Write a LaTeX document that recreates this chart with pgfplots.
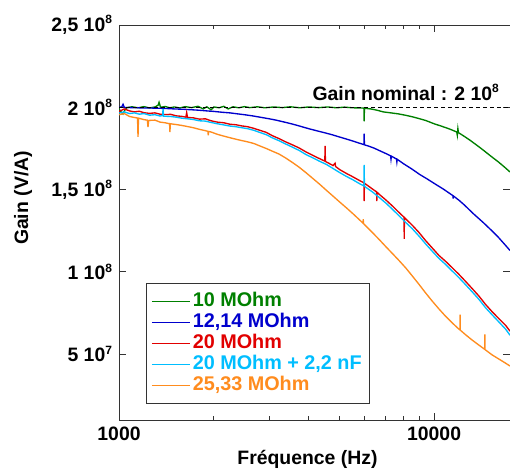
\documentclass[border=0pt]{standalone}
\usepackage{fontspec}
\setmainfont{Liberation Sans}
\usepackage{pgfplots}
\pgfplotsset{compat=1.18}
\definecolor{cgreen}{RGB}{0,128,0}
\definecolor{cblue}{RGB}{0,0,205}
\definecolor{cred}{RGB}{225,0,0}
\definecolor{ccyan}{RGB}{0,190,255}
\definecolor{corange}{RGB}{255,140,30}
\newcommand{\supx}[1]{\raisebox{7.5bp}{\fontsize{12bp}{12bp}\selectfont #1}}
\newcommand{\bigf}{\fontsize{19.4bp}{21bp}\selectfont\bfseries}
\newcommand{\legf}{\fontsize{19.8bp}{21bp}\selectfont\bfseries}
\begin{document}
\begin{tikzpicture}
\begin{axis}[
 name=ax,
 scale only axis, width=391bp, height=395bp,
 xmode=log, xmin=1000, xmax=17420, ymin=0.1, ymax=2.5,
 xtick={1000,10000}, xticklabels={1000,10000},
 minor xtick={2000,3000,4000,5000,6000,7000,8000,9000},
 ytick={0.5,1,1.5,2,2.5},
 yticklabels={{5 10\supx{7}},{1 10\supx{8}},{1,5 10\supx{8}},{2 10\supx{8}},{2,5 10\supx{8}}},
 tick align=inside, major tick length=7bp, minor tick length=4bp,
 axis line style={black!80, line width=0.8bp},
 every tick/.style={black!80, line width=0.8bp},
 ticklabel style={font=\bigf},
 yticklabel style={xshift=-3.5bp},
 xticklabel style={yshift=-3.5bp},
 xlabel={Fréquence (Hz)}, ylabel={Gain (V/A)},
 label style={font=\bigf},
 xlabel style={at={(axis description cs:0.482,-0.1139)}, anchor=base},
 ylabel style={at={(axis description cs:-0.2327,0.562)}, anchor=base},
 every axis plot/.append style={line width=1.35bp},
 legend style={at={(0.069,0.347)}, anchor=north west, draw=black!80, line width=0.8bp,
   inner xsep=5bp, inner ysep=7.5bp, row sep=0bp, font=\legf,
   nodes={inner xsep=2.5bp, inner ysep=2bp, text height=14bp, text depth=3bp}},
 legend cell align=left,
 legend image code/.code={\draw[#1, line width=0.9bp] (0bp,0bp) -- (38bp,0bp);},
]
\addplot[cgreen] coordinates {(1000,1.99)(1015,1.972)(1030,1.96)(1045,1.985)(1060,1.998)(1100,2.003)(1150,1.997)(1200,2.004)(1250,1.996)(1300,2.002)(1330,2.012)(1340,2.03)(1355,2.0)(1400,2.005)(1450,1.997)(1500,2.002)(1560,1.996)(1620,2.004)(1700,1.998)(1780,2.006)(1850,1.99)(1900,2.003)(1960,1.985)(2000,2.002)(2080,1.997)(2150,2.006)(2220,1.99)(2300,2.003)(2400,1.997)(2500,2.004)(2600,1.998)(2750,2.003)(2900,1.997)(3100,2.002)(3300,1.998)(3500,2.003)(3750,1.997)(4000,2.002)(4300,1.998)(4600,2.002)(4900,1.997)(5200,2.001)(5500,1.997)(5800,1.996)(5990,1.995)(6000,1.915)(6010,1.994)(6300,1.99)(6600,1.982)(6900,1.972)(7300,1.966)(7700,1.96)(8100,1.952)(8500,1.943)(8900,1.933)(9400,1.92)(10000,1.9)(10600,1.884)(11200,1.868)(11800,1.85)(11850,1.83)(11900,1.87)(11950,1.846)(12500,1.822)(13000,1.8)(13700,1.768)(14320,1.74)(15100,1.705)(16000,1.668)(16700,1.638)(17420,1.607)};
\addlegendentry{\textcolor{cgreen}{10 MOhm}}
\addplot[cblue] coordinates {(1000,2.0)(1020,2.002)(1030,2.018)(1040,1.999)(1100,1.998)(1200,1.996)(1300,1.995)(1400,1.993)(1500,1.99)(1600,1.988)(1700,1.985)(1800,1.982)(1900,1.978)(2000,1.975)(2120,1.97)(2250,1.966)(2380,1.96)(2500,1.955)(2650,1.948)(2800,1.94)(3000,1.93)(3150,1.922)(3300,1.913)(3470,1.903)(3650,1.892)(3820,1.881)(4000,1.87)(4250,1.857)(4500,1.845)(4750,1.833)(5000,1.82)(5250,1.808)(5500,1.796)(5750,1.784)(5990,1.773)(6000,1.84)(6010,1.772)(6200,1.764)(6450,1.752)(6740,1.735)(7050,1.718)(7280,1.705)(7300,1.685)(7320,1.703)(7600,1.686)(7620,1.668)(7640,1.684)(8000,1.657)(8500,1.625)(9000,1.592)(9500,1.565)(10000,1.538)(10700,1.503)(11480,1.463)(11500,1.445)(11520,1.461)(12000,1.435)(12500,1.405)(13300,1.355)(14320,1.30)(15100,1.258)(16000,1.21)(16700,1.17)(17420,1.13)};
\addlegendentry{\textcolor{cblue}{12,14 MOhm}}
\addplot[cred] coordinates {(1000,1.975)(1040,1.99)(1080,1.978)(1120,1.972)(1160,1.976)(1200,1.967)(1250,1.963)(1300,1.966)(1350,1.958)(1400,1.956)(1460,1.957)(1520,1.948)(1580,1.945)(1630,1.94)(1640,1.968)(1650,1.938)(1720,1.936)(1800,1.928)(1880,1.93)(1960,1.918)(2050,1.91)(2150,1.906)(2250,1.897)(2350,1.894)(2450,1.887)(2560,1.882)(2680,1.872)(2800,1.86)(2930,1.848)(3070,1.827)(3220,1.81)(3380,1.79)(3550,1.772)(3730,1.753)(3920,1.729)(4120,1.708)(4330,1.688)(4500,1.673)(4510,1.765)(4520,1.671)(4780,1.646)(4850,1.66)(4870,1.64)(5020,1.621)(5270,1.598)(5530,1.577)(5800,1.555)(5990,1.541)(6000,1.43)(6010,1.539)(6380,1.503)(6570,1.486)(6580,1.43)(6590,1.484)(6700,1.471)(7030,1.437)(7380,1.40)(7750,1.36)(8030,1.332)(8040,1.20)(8050,1.33)(8530,1.283)(8950,1.24)(9400,1.19)(9870,1.145)(10360,1.10)(10880,1.064)(11420,1.025)(11990,0.985)(12590,0.942)(13220,0.898)(13880,0.853)(14570,0.802)(15300,0.757)(16070,0.715)(16870,0.675)(17420,0.64)};
\addlegendentry{\textcolor{cred}{20 MOhm}}
\addplot[ccyan] coordinates {(1000,1.965)(1040,1.972)(1080,1.962)(1120,1.966)(1160,1.958)(1200,1.962)(1250,1.952)(1300,1.955)(1350,1.947)(1375,1.95)(1380,1.99)(1385,1.946)(1460,1.944)(1520,1.94)(1580,1.934)(1650,1.93)(1720,1.926)(1800,1.918)(1880,1.916)(1960,1.908)(2050,1.9)(2150,1.893)(2250,1.886)(2350,1.882)(2450,1.876)(2560,1.87)(2680,1.86)(2800,1.847)(2930,1.834)(3070,1.814)(3220,1.797)(3380,1.777)(3550,1.758)(3730,1.738)(3920,1.713)(4120,1.693)(4330,1.672)(4550,1.653)(4780,1.628)(5020,1.603)(5270,1.58)(5530,1.559)(5800,1.536)(5990,1.522)(6000,1.65)(6010,1.52)(6380,1.485)(6700,1.452)(7030,1.418)(7380,1.38)(7750,1.34)(8130,1.3)(8530,1.262)(8950,1.218)(9400,1.17)(9870,1.125)(10360,1.082)(10880,1.045)(11420,1.005)(11990,0.965)(12590,0.922)(13220,0.878)(13880,0.833)(14570,0.782)(15300,0.738)(16070,0.695)(16870,0.652)(17420,0.615)};
\addlegendentry{\textcolor{ccyan}{20 MOhm + 2,2 nF}}
\addplot[corange] coordinates {(1000,1.955)(1040,1.962)(1080,1.944)(1120,1.938)(1145,1.935)(1149,1.82)(1153,1.934)(1200,1.925)(1230,1.922)(1236,1.88)(1242,1.92)(1300,1.922)(1350,1.91)(1400,1.906)(1447,1.9)(1451,1.85)(1455,1.9)(1520,1.895)(1580,1.89)(1650,1.883)(1720,1.876)(1800,1.866)(1880,1.858)(1915,1.854)(1920,1.83)(1925,1.853)(1960,1.85)(2050,1.836)(2150,1.825)(2250,1.815)(2350,1.806)(2450,1.798)(2560,1.79)(2680,1.78)(2800,1.765)(2930,1.75)(3070,1.733)(3220,1.716)(3380,1.692)(3550,1.665)(3730,1.636)(3920,1.603)(4120,1.568)(4330,1.533)(4550,1.496)(4780,1.46)(5020,1.424)(5270,1.389)(5530,1.353)(5800,1.316)(5950,1.296)(5960,1.32)(5970,1.294)(6080,1.278)(6380,1.238)(6700,1.196)(7030,1.153)(7380,1.111)(7750,1.068)(8130,1.024)(8530,0.975)(8950,0.925)(9400,0.872)(9870,0.822)(10360,0.775)(10880,0.73)(11420,0.69)(11990,0.652)(12090,0.648)(12100,0.74)(12110,0.646)(12590,0.618)(13220,0.585)(13880,0.555)(14490,0.529)(14500,0.62)(14510,0.528)(15300,0.495)(16070,0.47)(16870,0.445)(17420,0.428)};
\addlegendentry{\textcolor{corange}{25,33 MOhm}}
\addplot[black, line width=0.9bp, dash pattern=on 4bp off 3bp, forget plot] coordinates {(1000,2) (17420,2)};
\node[anchor=base east, font=\bigf, inner sep=0pt] at (axis cs:16080,2.0427) {Gain nominal : 2 10\supx{8}};
\end{axis}
\pgfresetboundingbox
\path[use as bounding box] ([shift={(-119bp,-53bp)}]ax.south west) rectangle ([shift={(0bp,25bp)}]ax.north east);
\end{tikzpicture}
\end{document}
